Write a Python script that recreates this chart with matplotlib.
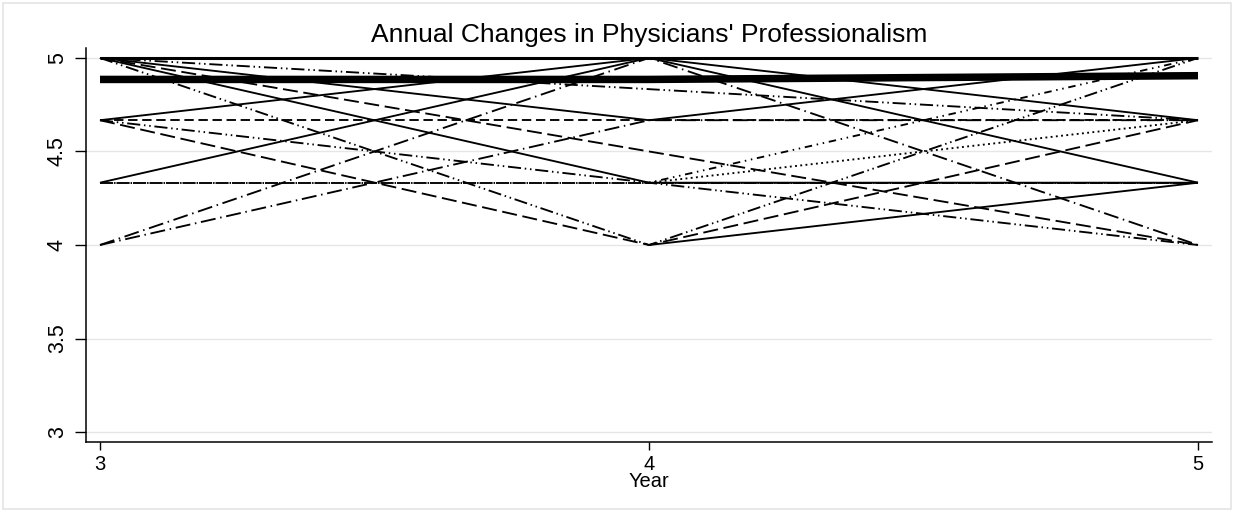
import matplotlib
matplotlib.use("Agg")
import matplotlib.pyplot as plt
from matplotlib.patches import Rectangle
import numpy as np

plt.rcParams["font.family"] = ["Liberation Sans", "DejaVu Sans"]

years = [3, 4, 5]

# one physician per row: score in year 3, 4, 5 (nan = not rated that year)
nan = np.nan
scores = [
    [5.0, 5.0, 5.0],
    [5.0, 4.833, 4.667],
    [5.0, 4.667, 5.0],
    [5.0, 4.5, 4.0],
    [5.0, 4.333, 4.333],
    [5.0, 4.0, 5.0],
    [4.667, 5.0, 4.333],
    [4.667, 4.667, 4.667],
    [4.667, 4.333, 4.0],
    [4.667, 4.0, 4.667],
    [4.333, 5.0, 4.667],
    [4.333, 4.333, 4.333],
    [4.0, 5.0, 4.0],
    [4.0, 4.667, 4.667],
    [nan, 4.333, 4.667],
    [nan, 4.333, 5.0],
    [nan, 4.0, 4.333],
]
# line pattern of each physician's trajectory
patterns = ["solid", "dashdotdot", "solid", "longdash", "solid", "dashdotdot",
            "solid", "dash", "dashdotdot", "longdash", "solid", "dense",
            "longdashdot", "longdashdot", "dot", "dotsparse", "solid"]

mean_score = [4.885, 4.885, 4.905]

DASHES = {
    "solid": None,
    "dash": (5, 2.5),
    "longdash": (8, 3),
    "longdashdot": (8, 2.5, 0.8, 2.5),
    "dashdotdot": (7, 2, 0.8, 2, 0.8, 2),
    "dense": (7, 0.5, 0.8, 0.5),
    "dot": (1, 1.8),
    "dotsparse": (0.8, 2.5, 0.8, 2.5, 4, 2.5),
}

fig = plt.figure(figsize=(12.34, 5.12), dpi=100)
ax = fig.add_axes([86 / 1234, 70 / 512, (1212 - 86) / 1234, (442 - 48) / 512])

for row, pat in zip(scores, patterns):
    lw = 2.2 if row == [5.0, 5.0, 5.0] else 1.35
    line, = ax.plot(years, row, color="black", lw=lw, solid_capstyle="butt")
    if DASHES[pat] is not None:
        line.set_dashes(DASHES[pat])

ax.plot(years, mean_score, color="black", lw=5.4, solid_capstyle="butt")

ax.set_xlim(2.9745, 5.0255)
ax.set_ylim(2.947, 5.053)
ax.set_xticks([3, 4, 5])
ax.set_yticks([3, 3.5, 4, 4.5, 5])
ax.set_yticklabels(["3", "3.5", "4", "4.5", "5"], rotation=90, va="center")
ax.tick_params(axis="y", length=8, width=1, labelsize=15.5, pad=5)
ax.tick_params(axis="x", length=6, width=1, labelsize=14.5, pad=3)
ax.grid(axis="y", color="#e6e6e6", lw=1)
ax.set_axisbelow(True)
for side in ["top", "right"]:
    ax.spines[side].set_visible(False)
for side in ["left", "bottom"]:
    ax.spines[side].set_linewidth(1.1)

ax.set_title("Annual Changes in Physicians' Professionalism", fontsize=19, pad=4)
ax.set_xlabel("Year", fontsize=14.5, labelpad=-1)

fig.patches.append(Rectangle((3 / 1234, 3 / 512), 1228 / 1234, 506 / 512,
                             transform=fig.transFigure, fill=False,
                             edgecolor="#e4e4e4", lw=1.2))

fig.savefig("out.png", dpi=100)
